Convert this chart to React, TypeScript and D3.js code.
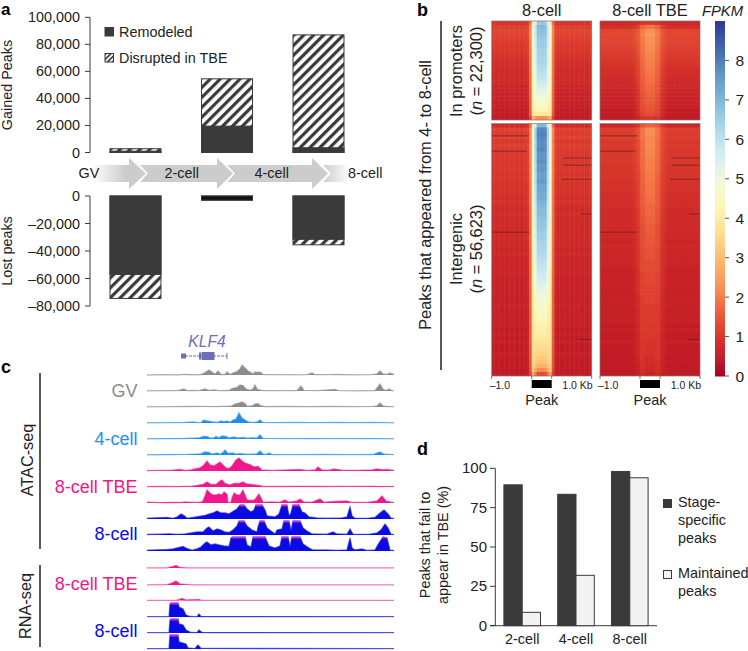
import React from 'react';
import * as d3 from 'd3';

const width = 748;
const height = 651;
const font = '"Liberation Sans", Arial, sans-serif';
const dark = '#3a3a3a';

// panel a
const stages = ['2-cell', '4-cell', '8-cell'];
const gainedRemodeled = [1000, 19500, 3500];
const gainedTotal = [2800, 54500, 87000];
const lostRemodeled = [-57000, -3000, -31500];
const lostTotal = [-74500, -3000, -35500];
const gainedTicks = [0, 20000, 40000, 60000, 80000, 100000];
const lostTicks = [0, -20000, -40000, -60000, -80000];

// panel d
const stageSpecific = [89.5, 83.5, 98];
const maintained = [8.5, 32, 94];
const percentTicks = [0, 25, 50, 75, 100];

// panel b, FPKM by heatmap row: flank, peak edge, peak centre
const bgTop8 = [.9,1.1,1.2,1.15,1.1,1.05,1.0,1.0,.95,.9,.85,.85,.8,.8,.75,.75,.7,.7,.65,.65,.6,.6,.55,.55,.5];
const rimTop8 = [4.0,4.6,4.7,4.7,4.6,4.6,4.6,4.5,4.5,4.5,4.5,4.4,4.4,4.4,4.3,4.3,4.3,4.2,4.2,4.2,4.1,4.1,4.0,3.8,2.8];
const coreTop8 = [6.6,6.9,6.8,6.7,6.6,6.5,6.5,6.4,6.4,6.3,6.3,6.2,6.1,6.0,5.9,5.7,5.5,5.3,5.1,4.9,4.7,4.5,4.3,3.8,2.2];
const bgBot8 = [
  .8,1.15,1.05,1.15,1.0,1.1,1.05,1.0,1.05,1.0,
  1.0,1.0,.95,1.0,.95,.9,.95,.9,.85,.9,
  .85,.8,.85,.8,.8,.8,.8,.75,.8,.75,
  .75,.7,.75,.7,.7,.7,.7,.7,.65,.65,
  .65,.65,.65,.6,.6,.65,.6,.6,.6,.6,
  .6,.55,.6,.55,.6,.55,.55,.6,.55,.55,
  .55,.5,.5,
];
const rimBot8 = [
  4.0,4.8,4.8,4.8,4.7,4.8,4.7,4.7,4.7,4.7,
  4.6,4.7,4.6,4.6,4.6,4.6,4.5,4.5,4.5,4.5,
  4.5,4.5,4.4,4.4,4.4,4.4,4.4,4.3,4.3,4.3,
  4.3,4.2,4.2,4.2,4.2,4.2,4.1,4.1,4.1,4.1,
  4.1,4.0,4.0,4.0,4.0,4.0,3.9,3.9,3.9,3.9,
  3.8,3.8,3.8,3.8,3.7,3.7,3.7,3.6,3.6,3.5,
  3.4,3.2,2.6,
];
const coreBot8 = [
  7.0,7.8,7.9,7.8,7.7,7.7,7.8,7.6,7.6,7.7,
  7.5,7.6,7.4,7.4,7.5,7.3,7.3,7.2,7.2,7.1,
  7.0,6.9,6.9,6.8,6.7,6.7,6.6,6.5,6.5,6.4,
  6.3,6.3,6.2,6.1,6.0,5.9,5.8,5.7,5.6,5.5,
  5.3,5.2,5.0,4.9,4.8,4.7,4.6,4.5,4.4,4.3,
  4.2,4.1,4.0,3.9,3.7,3.6,3.5,3.4,3.2,3.1,
  2.8,2.2,1.3,
];
const bgTopTbe = [.75,.85,1.2,1.25,1.2,1.2,1.15,1.1,1.05,1.0,.95,.9,.85,.85,.8,.75,.75,.7,.7,.65,.65,.6,.55,.55,.5];
const rimTopTbe = [.95,1.6,1.9,1.95,1.9,1.85,1.8,1.8,1.7,1.7,1.65,1.6,1.55,1.55,1.45,1.45,1.4,1.4,1.3,1.3,1.3,1.25,1.2,1.15,.95];
const coreTopTbe = [1.0,1.9,2.3,2.4,2.3,2.3,2.25,2.2,2.1,2.1,2.05,2.0,1.95,1.9,1.85,1.8,1.7,1.7,1.65,1.55,1.55,1.45,1.4,1.3,1.0];
const bgBotTbe = [
  .7,1.1,1.05,1.1,1.0,1.05,1.0,1.0,1.0,1.0,
  .95,.95,.95,.95,.9,.9,.9,.85,.85,.85,
  .85,.8,.8,.8,.8,.75,.8,.75,.75,.7,
  .75,.7,.7,.7,.7,.7,.65,.65,.65,.65,
  .65,.65,.6,.65,.6,.65,.6,.6,.6,.6,
  .55,.6,.55,.55,.6,.55,.55,.55,.5,.55,
  .5,.5,.5,
];
const rimBotTbe = [
  1.4,1.8,1.8,1.8,1.7,1.7,1.7,1.7,1.65,1.65,
  1.65,1.65,1.55,1.55,1.55,1.55,1.5,1.5,1.5,1.5,
  1.5,1.4,1.4,1.4,1.4,1.3,1.3,1.3,1.3,1.3,
  1.3,1.25,1.25,1.25,1.25,1.25,1.25,1.15,1.15,1.15,
  1.15,1.15,1.15,1.05,1.05,1.05,1.05,1.05,1.05,1.05,
  1.05,1.05,1.0,1.0,1.0,1.0,1.0,1.0,1.0,.9,
  .9,.9,.8,
];
const coreBotTbe = [
  1.6,2.3,2.3,2.2,2.2,2.2,2.15,2.15,2.1,2.05,
  2.05,2.05,2.0,2.0,1.95,1.9,1.9,1.9,1.8,1.8,
  1.7,1.7,1.7,1.65,1.65,1.55,1.55,1.55,1.5,1.5,
  1.45,1.4,1.4,1.4,1.3,1.3,1.3,1.25,1.25,1.25,
  1.2,1.15,1.15,1.15,1.15,1.05,1.05,1.05,1.05,1.05,
  1.0,1.0,1.0,1.0,.9,.9,.9,.9,.85,.85,
  .8,.75,.65,
];
// weight of the edge and centre values in each of the 40 heatmap columns
const rimWeight8 = [0,0,0,0,0,0,0,0,0,0,0,0,0,0,.04,.3,1,.5,0,0,0,0,.5,1,.3,.04,0,0,0,0,0,0,0,0,0,0,0,0,0,0];
const coreWeight8 = [0,0,0,0,0,0,0,0,0,0,0,0,0,0,0,0,0,.5,1,1,1,1,.5,0,0,0,0,0,0,0,0,0,0,0,0,0,0,0,0,0];
const rimWeightTbe = [0,0,0,0,0,0,0,0,0,0,0,0,0,.1,.25,.5,.85,.7,0,0,0,0,.7,.85,.5,.25,.1,0,0,0,0,0,0,0,0,0,0,0,0,0];
const coreWeightTbe = [0,0,0,0,0,0,0,0,0,0,0,0,0,0,0,0,.15,.3,1,1,1,1,.3,.15,0,0,0,0,0,0,0,0,0,0,0,0,0,0,0,0];
// rows with no signal in the intergenic block, in row and column units
const emptyRows = [3.1, 6.9, 8.6, 10.4, 13.9, 22.6, 27.1, 53.9];
const emptyFrom = [0, 0, 28.5, 28.5, 28, 35.7, 0, 35];
const emptyTo = [15, 14, 40, 40, 40, 40, 15, 40];
const fpkmTicks = [0, 1, 2, 3, 4, 5, 6, 7, 8];

// panel c, [position, signal] along the locus
const gv1 = [[0,0],[15,.3],[30,0],[33,.4],[40,.5],[48,.2],[54,.5],[58,2.5],[62,5],[65,3],[68,.8],[71,4],[74,.5],[78,.5],[80,3],[83,.5],[86,2],[90,3.5],[93,6],[95,10],[98,7],[101,4],[104,2.5],[106,.8],[108,3],[111,2.5],[113,3],[116,.5],[130,.3],[150,.2],[160,.3],[165,2],[168,.4],[180,.3],[190,.5],[205,.2],[225,.3],[230,1],[233,4],[236,1],[240,.6],[243,2],[247,.5]];
const gv2 = [[0,.2],[20,.3],[30,.3],[37,2],[40,.4],[48,.6],[52,.3],[58,2],[62,.6],[67,1],[72,.3],[82,.5],[85,2.5],[90,3.5],[93,6],[96,5.5],[99,2],[103,.8],[106,2],[108,6],[110,2],[113,.8],[117,.4],[135,.3],[150,.4],[154,5],[157,.6],[170,.3],[188,1.5],[192,.3],[212,.2],[228,.4],[233,7],[236,2],[239,.4],[242,2],[245,.4],[247,.2]];
const gv3 = [[0,.2],[25,.3],[40,.5],[55,.6],[68,.4],[75,.6],[84,.8],[88,3],[92,4],[95,5],[98,3.5],[100,.8],[105,1],[108,3],[111,3.5],[113,1.5],[118,.4],[135,.5],[160,.4],[185,.5],[210,.3],[226,.6],[230,1],[233,4],[236,1],[240,.4],[247,.3]];
const four1 = [[0,.2],[18,.3],[35,.3],[47,1],[50,.3],[54,.6],[57,3],[60,2],[63,1.5],[66,1],[70,.5],[74,2],[77,1.2],[80,2],[83,.8],[86,3],[89,4],[92,10],[95,5],[98,3],[102,.8],[107,.5],[110,1],[113,3],[116,.6],[125,.3],[150,.5],[165,.3],[190,.6],[205,.3],[226,.5],[240,.3],[247,.2]];
const four2 = [[0,.2],[20,.4],[38,.5],[52,1],[56,2.5],[60,2.5],[63,1],[66,.8],[69,2.5],[72,1.2],[75,3],[79,2.5],[82,1],[87,2],[91,1],[96,1.5],[100,.8],[105,1.2],[110,1],[113,4],[116,.6],[140,.3],[165,.4],[195,.3],[225,.4],[247,.2]];
const four3 = [[0,.2],[22,.4],[40,.6],[54,1.2],[58,3],[62,2.5],[65,.8],[70,2],[73,.7],[76,2.5],[78,5],[81,1.5],[86,2],[89,.8],[93,1.5],[98,.8],[105,.8],[110,1.2],[113,4],[116,1],[119,.5],[122,2],[125,.4],[150,.3],[175,.5],[205,.3],[226,.5],[230,2],[233,3],[237,.8],[247,.3]];
const tbe1 = [[0,.4],[12,.6],[25,.8],[33,1.5],[38,.5],[44,1],[48,2],[53,3],[57,6],[60,10],[63,6],[67,5],[70,7],[73,9],[76,6],[79,3],[82,2.5],[85,5],[89,11],[92,13],[95,10],[98,8],[101,7],[104,6],[107,4],[111,4.5],[115,1],[125,.6],[140,1],[152,1.5],[160,.6],[168,1],[171,4],[175,1],[182,.8],[187,2],[195,.8],[210,.7],[225,1],[230,2],[236,1.2],[240,1.5],[247,.6]];
const tbe2 = [[0,.4],[15,.5],[30,.4],[45,.8],[50,1.5],[56,2.5],[60,5],[64,2.5],[69,2.5],[73,6],[75,7],[78,3.5],[83,2],[87,3.5],[92,3.5],[96,5],[100,3],[104,2.5],[108,2],[112,1.5],[116,.5],[135,.5],[155,.7],[175,.5],[200,.6],[225,.7],[247,.4]];
const tbe3 = [[0,.8],[12,.4],[25,.7],[34,.5],[38,1],[48,.6],[54,.8],[56,2],[58,7],[60,13],[63,10],[66,8],[69,8],[72,9],[75,8],[77,11],[80,9],[81,.6],[84,.8],[85,5],[87,10],[90,8],[93,8],[96,13],[98,8],[100,3],[105,2.5],[108,3.5],[112,9],[114,5],[116,.8],[125,1],[133,.8],[138,3],[142,.8],[150,2],[153,4],[157,1],[165,.8],[173,4],[177,.8],[188,1.5],[200,2],[204,.6],[220,.6],[230,2],[235,7],[239,2],[244,.8],[247,.5]];
const eight1 = [[0,.8],[10,1.2],[20,1.5],[26,.7],[30,2],[34,5],[37,3.5],[40,.8],[46,1.5],[52,2.5],[58,3.5],[62,5],[66,6],[70,8],[74,6],[78,6],[82,5],[85,7],[90,10],[93,14],[97,14],[100,10],[104,7],[107,9],[109,14],[115,14],[118,9],[120,3],[128,2],[132,5],[135,14],[140,14],[142,3],[144,6],[146,14],[152,14],[155,7],[158,6],[162,2],[170,1],[180,.8],[195,1],[200,2],[203,12],[205,3],[208,.8],[220,.7],[228,1.5],[233,6],[237,9],[241,5],[244,.8],[247,.6]];
const eight2 = [[0,.5],[12,.8],[22,1.2],[30,.7],[38,1],[44,2],[50,3],[56,3],[60,7],[62,8],[66,4],[70,6],[74,5],[78,3],[82,2.5],[86,5],[90,9],[92,14],[97,14],[100,9],[105,5],[110,3],[111,8],[113,14],[117,14],[120,7],[124,4],[128,1],[130,5],[135,6],[137,14],[142,14],[144,4],[146,14],[153,14],[156,7],[160,4],[165,1],[180,.8],[186,3],[190,1],[200,.8],[203,6],[206,.8],[222,.7],[230,2],[234,5],[238,11],[241,7],[244,.8],[247,.5]];
const eight3 = [[0,.8],[10,1.2],[20,1.4],[26,2],[30,3],[36,4.5],[40,2.5],[45,.8],[50,2],[54,4],[58,8],[60,9],[64,6],[68,7],[72,6],[77,5],[82,4.5],[84,13],[86,14],[98,14],[100,6],[104,4],[106,14],[118,14],[122,5],[128,3],[133,5],[135,14],[141,14],[143,4],[145,14],[153,14],[156,7],[162,3],[166,1],[180,1],[190,.7],[200,1],[203,13],[205,3],[208,1],[215,2],[220,.6],[228,1],[232,8],[236,14],[240,13],[243,.8],[247,.5]];
const rnaTbe1 = [[0,.1],[20,.1],[24,1],[29,2.5],[33,.5],[40,.1],[247,.1]];
const rnaTbe2 = [[0,.1],[20,.3],[25,2],[29,4],[33,1],[42,.3],[50,.1],[247,.1]];
const rnaTbe3 = [[0,.1],[30,.3],[35,2],[39,.5],[52,1],[54,.1],[247,.1]];
const rna81 = [[0,.3],[22,.3],[23,13],[24,14],[31,14],[32,10],[36,8],[39,2],[43,.5],[50,.3],[52,3],[54,.5],[247,.3]];
const rna82 = [[0,.3],[22,.3],[23,13],[24,14],[31,14],[32,9],[36,8],[39,3],[44,.5],[50,.4],[52,3],[55,.5],[247,.3]];
const rna83 = [[0,.3],[22,.3],[23,14],[31,14],[32,7],[36,6],[39,5],[41,1],[48,.4],[51,4],[54,.6],[247,.3]];

const gray = '#8c8c8c';
const sky = '#1e8fef';
const pink = '#f0168c';
const blue = '#0a0ae6';
const tracks = [
  { data: gv1, y: 375, color: gray }, { data: gv2, y: 391, color: gray }, { data: gv3, y: 407, color: gray },
  { data: four1, y: 423, color: sky }, { data: four2, y: 439, color: sky }, { data: four3, y: 455, color: sky },
  { data: tbe1, y: 471, color: pink }, { data: tbe2, y: 487, color: pink }, { data: tbe3, y: 503, color: pink },
  { data: eight1, y: 519, color: blue, cap: true }, { data: eight2, y: 535, color: blue, cap: true }, { data: eight3, y: 551, color: blue, cap: true },
  { data: rnaTbe1, y: 568, color: pink }, { data: rnaTbe2, y: 585, color: pink }, { data: rnaTbe3, y: 600.5, color: pink },
  { data: rna81, y: 617, color: blue, cap: true }, { data: rna82, y: 633, color: blue, cap: true }, { data: rna83, y: 649, color: blue, cap: true },
];

const gainedY = d3.scaleLinear().domain([0, 100000]).range([152.5, 17.3]);
const lostY = d3.scaleLinear().domain([0, -80000]).range([196, 306]);
const barX = d3.scaleBand().domain(stages).range([90, 364]).paddingInner(0.443).paddingOuter(0.2186);
const percentY = d3.scaleLinear().domain([0, 100]).range([625.7, 468.3]);
const groupX = d3.scaleBand().domain(stages).range([495.3, 656.7]).paddingInner(0.32).paddingOuter(0.16);
const fpkmY = d3.scaleLinear().domain([0, 9]).range([376, 21]);
const fpkmColor = d3.scaleSequential(d3.interpolateRdYlBu).domain([0, 9]);
const locusX = d3.scaleLinear().domain([0, 247]).range([147, 394]);
const signalH = d3.scaleLinear().domain([0, 14]).range([0, 14]);

const fmt = (v: number) => d3.format(',')(v).replace('-', '–').replace('−', '–');

function Label({ x, y, children, size = 14.4, anchor = 'start', rotate = false, fill = '#222', style = 'normal', weight = 'normal' }: any) {
  return (
    <text x={rotate ? 0 : x} y={rotate ? 0 : y} transform={rotate ? `translate(${x},${y}) rotate(-90)` : undefined}
      fontSize={size} textAnchor={anchor} fill={fill} fontStyle={style} fontWeight={weight} fontFamily={font}>
      {children}
    </text>
  );
}

function HeatBlock({ x0, y0, w, h, bg, rim, core, rimW, coreW, id }: any) {
  const colX = d3.scaleLinear().domain([0, 40]).range([x0, x0 + w]);
  const rowY = d3.scaleLinear().domain([0, bg.length]).range([y0, y0 + h]);
  return (
    <g clipPath={`url(#${id})`}>
      <clipPath id={id}><rect x={x0} y={y0} width={w} height={h} /></clipPath>
      <g filter="url(#soft)">
        {bg.map((b: number, r: number) =>
          rimW.map((rw: number, c: number) => {
            const cw = coreW[c];
            const v = b * (1 - rw - cw) + rim[r] * rw + core[r] * cw;
            return <rect key={`${r}-${c}`} x={colX(c)} y={rowY(r)} width={w / 40 + 0.5} height={h / bg.length + 0.5} fill={fpkmColor(v)} />;
          })
        )}
      </g>
    </g>
  );
}

function HeatColumn({ x0, title, tops, bots, rimW, coreW, name }: any) {
  const w = 100;
  const colX = d3.scaleLinear().domain([0, 40]).range([x0, x0 + w]);
  const rowY = d3.scaleLinear().domain([0, 63]).range([123.5, 376]);
  return (
    <g>
      <Label x={x0 + 50} y={16} anchor="middle" size={16.4}>{title}</Label>
      <HeatBlock id={`${name}-top`} x0={x0} y0={21} w={w} h={99} bg={tops[0]} rim={tops[1]} core={tops[2]} rimW={rimW} coreW={coreW} />
      <HeatBlock id={`${name}-bot`} x0={x0} y0={123.5} w={w} h={252.5} bg={bots[0]} rim={bots[1]} core={bots[2]} rimW={rimW} coreW={coreW} />
      {emptyRows.map((r, i) => (
        <line key={i} x1={colX(emptyFrom[i])} x2={colX(emptyTo[i])} y1={rowY(r)} y2={rowY(r)} stroke="#5b1a1a" strokeWidth={0.8} opacity={0.8} />
      ))}
      <rect x={x0} y={21} width={w} height={99} fill="none" stroke="#777" strokeWidth={0.7} />
      <rect x={x0} y={123.5} width={w} height={252.5} fill="none" stroke="#777" strokeWidth={0.7} />
      {[0, 16, 24, 40].map(c => <line key={c} x1={colX(c)} x2={colX(c)} y1={376} y2={379} stroke="#555" strokeWidth={0.8} />)}
      <rect x={colX(16)} y={380} width={colX(24) - colX(16)} height={8} fill="#000" />
      <Label x={x0 - 2} y={389} size={10.5}>–1.0</Label>
      <Label x={x0 + 101} y={389} size={10.5} anchor="end">1.0 Kb</Label>
      <Label x={x0 + 50} y={405} anchor="middle">Peak</Label>
    </g>
  );
}

function Track({ data, y, color, cap, id }: any) {
  const area = d3.area<number[]>().x(d => locusX(d[0])).y0(y).y1(d => y - signalH(d[1]));
  const line = d3.line<number[]>().x(d => locusX(d[0])).y(d => y - signalH(d[1]));
  return (
    <g>
      <path d={area(data) as string} fill={color} />
      <path d={line(data) as string} fill="none" stroke={color} strokeWidth={1.3} opacity={0.6} />
      {cap && (
        <g>
          <clipPath id={id}><rect x={147} y={y - signalH(14) - 1} width={247} height={signalH(14) - signalH(12.6) + 1} /></clipPath>
          <path d={area(data) as string} fill="#ee1ea0" clipPath={`url(#${id})`} />
        </g>
      )}
    </g>
  );
}

export default function App() {
  const barW = barX.bandwidth();
  const colorSteps = d3.range(0, 9, 0.05);

  return (
    <svg width={width} height={height} style={{ position: 'absolute', left: 0, top: 0, background: '#fff' }}>
      <defs>
        <pattern id="hatch" width={7} height={7} patternUnits="userSpaceOnUse" patternTransform="rotate(45)">
          <rect width={7} height={7} fill="#fff" />
          <rect x={0} width={3.2} height={7} fill={dark} />
        </pattern>
        <pattern id="hatchSmall" width={3.5} height={3.5} patternUnits="userSpaceOnUse" patternTransform="rotate(45)">
          <rect width={3.5} height={3.5} fill="#fff" />
          <rect x={0} width={1.6} height={3.5} fill={dark} />
        </pattern>
        <linearGradient id="fadeIn" gradientUnits="userSpaceOnUse" x1={92} x2={125} y1={0} y2={0}>
          <stop offset="0" stopColor="#fff" />
          <stop offset="1" stopColor="#cccccc" />
        </linearGradient>
        <linearGradient id="fadeOut" gradientUnits="userSpaceOnUse" x1={323} x2={350} y1={0} y2={0}>
          <stop offset="0" stopColor="#cccccc" />
          <stop offset="1" stopColor="#fff" />
        </linearGradient>
        <filter id="soft" x="-5%" y="-5%" width="110%" height="110%">
          <feGaussianBlur stdDeviation="0.7" />
        </filter>
      </defs>

      {/* a */}
      <Label x={1} y={15.4} size={17} weight="bold" fill="#000">a</Label>
      <line x1={90} x2={90} y1={gainedY(100000)} y2={gainedY(0)} stroke={dark} />
      {gainedTicks.map(t => (
        <g key={t}>
          <line x1={85} x2={90} y1={gainedY(t)} y2={gainedY(t)} stroke={dark} />
          <Label x={80} y={gainedY(t) + 5} anchor="end">{fmt(t)}</Label>
        </g>
      ))}
      <line x1={90} x2={90} y1={lostY(0)} y2={lostY(-80000)} stroke={dark} />
      {lostTicks.map(t => (
        <g key={t}>
          <line x1={85} x2={90} y1={lostY(t)} y2={lostY(t)} stroke={dark} />
          <Label x={80} y={lostY(t) + 5} anchor="end">{fmt(t)}</Label>
        </g>
      ))}
      <Label x={12} y={85} rotate anchor="middle">Gained Peaks</Label>
      <Label x={12} y={251} rotate anchor="middle">Lost peaks</Label>
      {stages.map((s, i) => {
        const bx = barX(s) as number;
        return (
          <g key={s}>
            <rect x={bx} y={gainedY(gainedTotal[i])} width={barW} height={gainedY(0) - gainedY(gainedTotal[i])} fill="url(#hatch)" stroke={dark} />
            <rect x={bx} y={gainedY(gainedRemodeled[i])} width={barW} height={gainedY(0) - gainedY(gainedRemodeled[i])} fill={dark} stroke={dark} />
            <rect x={bx} y={lostY(0)} width={barW} height={lostY(lostTotal[i]) - lostY(0)} fill="url(#hatch)" stroke={dark} />
            <rect x={bx} y={lostY(0)} width={barW} height={lostY(lostRemodeled[i]) - lostY(0)} fill={i === 1 ? '#111' : dark} stroke={dark} />
          </g>
        );
      })}
      <rect x={105} y={27.5} width={8.5} height={8.5} fill={dark} stroke={dark} />
      <Label x={119} y={37}>Remodeled</Label>
      <rect x={105} y={53.5} width={8.5} height={8.5} fill="url(#hatchSmall)" stroke={dark} />
      <Label x={119} y={63}>Disrupted in TBE</Label>

      {/* stage arrows */}
      <path d="M92,165 H129 V158 L146,173.5 L129,189 V182 H92 Z" fill="url(#fadeIn)" />
      <path d="M140,165 H217 V158 L233,173.5 L217,189 V182 H140 L148,173.5 Z" fill="#cccccc" />
      <path d="M227,165 H312 V158 L328,173.5 L312,189 V182 H227 L235,173.5 Z" fill="#cccccc" />
      <path d="M323,165 H352 V182 H323 L331,173.5 Z" fill="url(#fadeOut)" />
      <Label x={78.5} y={178}>GV</Label>
      <Label x={181.7} y={178} anchor="middle">2-cell</Label>
      <Label x={271.7} y={178} anchor="middle">4-cell</Label>
      <Label x={348} y={178}>8-cell</Label>

      {/* b */}
      <Label x={417} y={15.5} size={18} weight="bold" fill="#000">b</Label>
      <line x1={441} x2={441} y1={21} y2={370} stroke="#111" strokeWidth={1.4} />
      <Label x={431} y={195} rotate anchor="middle" size={16.4}>Peaks that appeared from 4- to 8-cell</Label>
      <Label x={462} y={71} rotate anchor="middle" size={16.4}>In promoters</Label>
      <Label x={482} y={71} rotate anchor="middle" size={16.4}>(<tspan fontStyle="italic">n</tspan> = 22,300)</Label>
      <Label x={462} y={249} rotate anchor="middle" size={16.4}>Intergenic</Label>
      <Label x={482} y={249} rotate anchor="middle" size={16.4}>(<tspan fontStyle="italic">n</tspan> = 56,623)</Label>
      <HeatColumn x0={491.7} title="8-cell" name="eight" tops={[bgTop8, rimTop8, coreTop8]} bots={[bgBot8, rimBot8, coreBot8]} rimW={rimWeight8} coreW={coreWeight8} />
      <HeatColumn x0={600} title="8-cell TBE" name="tbe" tops={[bgTopTbe, rimTopTbe, coreTopTbe]} bots={[bgBotTbe, rimBotTbe, coreBotTbe]} rimW={rimWeightTbe} coreW={coreWeightTbe} />
      <Label x={722.5} y={16} anchor="middle" size={14.8} style="italic">FPKM</Label>
      {colorSteps.map(v => (
        <rect key={v} x={715} y={fpkmY(v + 0.05)} width={10} height={fpkmY(v) - fpkmY(v + 0.05) + 0.5} fill={fpkmColor(v)} />
      ))}
      {fpkmTicks.map(t => (
        <g key={t}>
          <line x1={725} x2={729} y1={fpkmY(t)} y2={fpkmY(t)} stroke="#555" />
          <Label x={735.5} y={fpkmY(t) + 5.5} size={15.5}>{t}</Label>
        </g>
      ))}

      {/* c */}
      <Label x={1} y={373} size={18} weight="bold" fill="#000">c</Label>
      <Label x={207} y={347} anchor="middle" size={15.6} style="italic" fill="#6f6cb8">KLF4</Label>
      <line x1={181} x2={227} y1={356} y2={356} stroke="#6f6cb8" strokeWidth={1} strokeDasharray="3 1" />
      <rect x={181} y={353.5} width={5} height={5} fill="#6f6cb8" />
      <rect x={199} y={352.5} width={2} height={7} fill="#6f6cb8" />
      <rect x={201.5} y={352} width={13} height={8} fill="#6f6cb8" />
      <line x1={227} x2={227} y1={353} y2={359} stroke="#6f6cb8" />
      <line x1={40} x2={40} y1={373} y2={549} stroke="#000" strokeWidth={1.3} />
      <line x1={40} x2={40} y1={565} y2={647} stroke="#000" strokeWidth={1.3} />
      <Label x={33} y={460} rotate anchor="middle" size={16.3}>ATAC-seq</Label>
      <Label x={31} y={606} rotate anchor="middle" size={16.3}>RNA-seq</Label>
      <Label x={137.5} y={397} anchor="end" size={18} fill={gray}>GV</Label>
      <Label x={137.5} y={445} anchor="end" size={18} fill={sky}>4-cell</Label>
      <Label x={137.5} y={493} anchor="end" size={18} fill={pink}>8-cell TBE</Label>
      <Label x={137.5} y={540} anchor="end" size={18} fill={blue}>8-cell</Label>
      <Label x={137.5} y={590} anchor="end" size={18} fill={pink}>8-cell TBE</Label>
      <Label x={137.5} y={637} anchor="end" size={18} fill={blue}>8-cell</Label>
      {tracks.map((t, i) => <Track key={i} id={`cap${i}`} {...t} />)}

      {/* d */}
      <Label x={417} y={455} size={18} weight="bold" fill="#000">d</Label>
      <line x1={495.3} x2={495.3} y1={percentY(100)} y2={percentY(0)} stroke={dark} />
      <line x1={490} x2={657} y1={percentY(0)} y2={percentY(0)} stroke={dark} />
      {percentTicks.map(t => (
        <g key={t}>
          <line x1={490} x2={495.3} y1={percentY(t)} y2={percentY(t)} stroke={dark} />
          <Label x={487} y={percentY(t) + 5} anchor="end" size={15}>{t}</Label>
        </g>
      ))}
      <Label x={430} y={545} rotate anchor="middle">Peaks that fail to</Label>
      <Label x={448} y={545} rotate anchor="middle">appear in TBE (%)</Label>
      {stages.map((s, i) => {
        const gx = groupX(s) as number;
        const bw = groupX.bandwidth() / 2;
        return (
          <g key={s}>
            <rect x={gx} y={percentY(stageSpecific[i])} width={bw} height={percentY(0) - percentY(stageSpecific[i])} fill={dark} stroke={dark} />
            <rect x={gx + bw} y={percentY(maintained[i])} width={bw} height={percentY(0) - percentY(maintained[i])} fill="#f2f2f2" stroke={dark} />
            <Label x={gx + bw} y={644} anchor="middle">{s}</Label>
          </g>
        );
      })}
      <rect x={663.5} y={499.5} width={8} height={8} fill={dark} stroke={dark} />
      <Label x={678} y={507}>Stage-</Label>
      <Label x={678} y={525}>specific</Label>
      <Label x={678} y={543}>peaks</Label>
      <rect x={663.5} y={570.5} width={8} height={8} fill="#f2f2f2" stroke={dark} />
      <Label x={678} y={578}>Maintained</Label>
      <Label x={678} y={596}>peaks</Label>
    </svg>
  );
}
